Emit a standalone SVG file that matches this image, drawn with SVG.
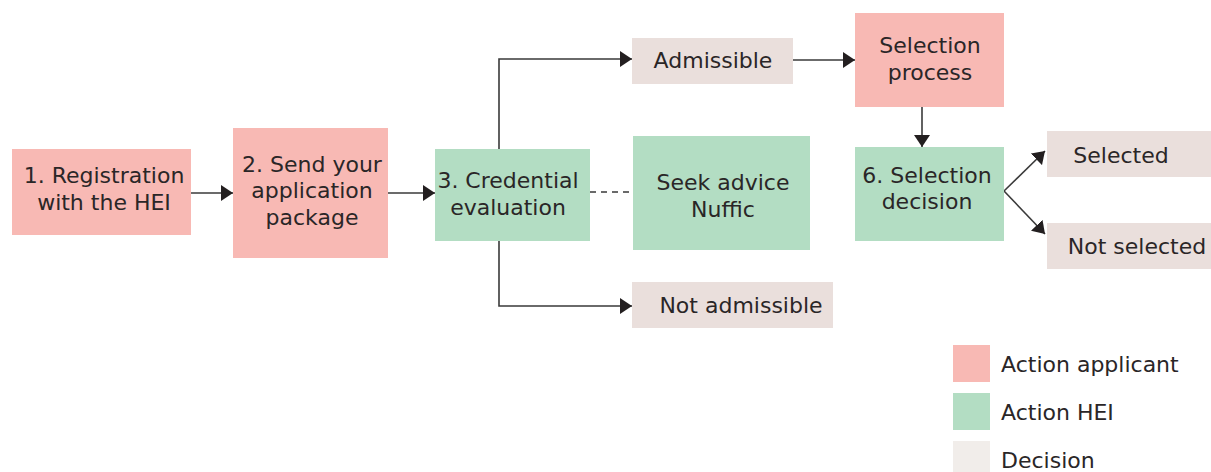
<svg xmlns="http://www.w3.org/2000/svg" width="1211" height="472" viewBox="0 0 1211 472">
<defs>
<style>
.app{fill:#F8B9B4}
.hei{fill:#B3DDC3}
.dec{fill:#EADFDC}
text{font-family:"DejaVu Sans","Liberation Sans",sans-serif;font-size:22px;fill:#2a2627;text-anchor:middle}
.lg{text-anchor:start}
.ln{fill:none;stroke:#3a3a3a;stroke-width:1.6}
</style>
<marker id="ah" markerUnits="userSpaceOnUse" markerWidth="13" markerHeight="16" refX="12" refY="8" orient="auto">
<path d="M0,0 L12,8 L0,16 z" fill="#231f20"/>
</marker>
</defs>
<rect width="1211" height="472" fill="#ffffff"/>
<g id="connectors">
<line class="ln" x1="191" y1="193" x2="233" y2="193" marker-end="url(#ah)"/>
<line class="ln" x1="388" y1="193" x2="435" y2="193" marker-end="url(#ah)"/>
<polyline class="ln" points="499,149 499,59 632,59" marker-end="url(#ah)"/>
<polyline class="ln" points="499,241 499,306 632,306" marker-end="url(#ah)"/>
<line class="ln" x1="590" y1="192" x2="633" y2="192" stroke-dasharray="6,5"/>
<line class="ln" x1="793" y1="60" x2="855" y2="60" marker-end="url(#ah)"/>
<line class="ln" x1="922" y1="107" x2="922" y2="147" marker-end="url(#ah)"/>
<line class="ln" x1="1004" y1="191" x2="1045" y2="151" marker-end="url(#ah)"/>
<line class="ln" x1="1004" y1="191" x2="1045" y2="234" marker-end="url(#ah)"/>
</g>
<g id="n1"><rect class="app" x="12" y="149" width="179" height="86"/><text x="104" y="183">1. Registration</text><text x="104" y="210">with the HEI</text></g>
<g id="n2"><rect class="app" x="233" y="128" width="155" height="130"/><text x="312" y="172">2. Send your</text><text x="312" y="198">application</text><text x="312" y="225">package</text></g>
<g id="n3"><rect class="hei" x="435" y="149" width="155" height="92"/><text x="508" y="188">3. Credential</text><text x="508" y="215">evaluation</text></g>
<g id="n4"><rect class="hei" x="633" y="136" width="177" height="114"/><text x="723" y="190">Seek advice</text><text x="723" y="217">Nuffic</text></g>
<g id="n5"><rect class="dec" x="632" y="38" width="161" height="46"/><text x="713" y="68">Admissible</text></g>
<g id="n6"><rect class="dec" x="632" y="282" width="201" height="46"/><text x="741" y="313">Not admissible</text></g>
<g id="n7"><rect class="app" x="855" y="13" width="149" height="94"/><text x="930" y="53">Selection</text><text x="930" y="80">process</text></g>
<g id="n8"><rect class="hei" x="855" y="147" width="149" height="94"/><text x="927" y="183">6. Selection</text><text x="927" y="209">decision</text></g>
<g id="n9"><rect class="dec" x="1047" y="131" width="164" height="46"/><text x="1121" y="163">Selected</text></g>
<g id="n10"><rect class="dec" x="1047" y="223" width="164" height="46"/><text x="1137" y="254">Not selected</text></g>
<g id="legend">
<rect class="app" x="953" y="345" width="37" height="37"/><text class="lg" x="1001" y="372">Action applicant</text>
<rect class="hei" x="953" y="393" width="37" height="37"/><text class="lg" x="1001" y="420">Action HEI</text>
<rect x="953" y="441" width="37" height="37" fill="#F1EDEA"/><text class="lg" x="1001" y="468">Decision</text>
</g>
</svg>
